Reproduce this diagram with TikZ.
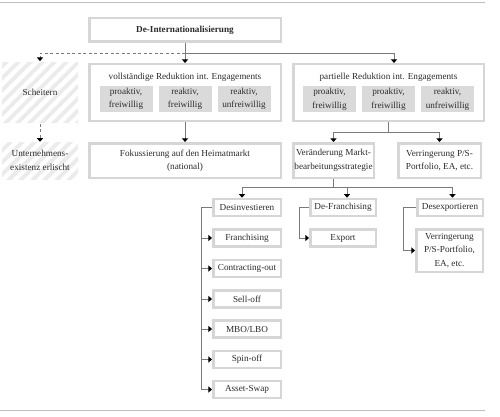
\documentclass[tikz,border=0pt]{standalone}
\usepackage{fontspec}
\setmainfont{Liberation Serif}
\usepackage{tikz}
\usetikzlibrary{arrows.meta, positioning, calc, patterns.meta}
\usepackage{xcolor}
\definecolor{boxline}{HTML}{D6D6D6}
\definecolor{subfill}{HTML}{DADADA}
\definecolor{wiregray}{HTML}{7A7A7A}
\definecolor{rulegray}{HTML}{BDBDBD}
\definecolor{hatchgray}{HTML}{EBEBEB}
\definecolor{textdark}{HTML}{2B2B2B}

\begin{document}
\begin{tikzpicture}[
  x=1pt, y=-1pt,
  every node/.style={font=\fontsize{9.2}{13.5}\selectfont, text=textdark},
  box/.style={
    rectangle, draw=boxline, line width=2.5pt, fill=white,
    align=center, inner sep=1pt
  },
  subbox/.style={
    rectangle, fill=subfill, align=center, inner sep=1pt,
    minimum width=53pt, minimum height=26pt
  },
  hatchbox/.style={
    rectangle, align=center, inner sep=1pt,
    pattern={Lines[angle=45, distance=8.5pt, line width=3.8pt]},
    pattern color=hatchgray
  },
  wire/.style={draw=wiregray, line width=0.8pt},
  arrowtip/.style={-{Triangle[length=3.6pt, width=6pt, color=black]}}
]
  \useasboundingbox (0,0) rectangle (500,417);

  % Rules top and bottom
  \draw[rulegray, line width=0.8pt] (0,2) -- (485,2);
  \draw[rulegray, line width=0.8pt] (0,410) -- (485,410);

  % Top level
  \node[box, font=\fontsize{9.2}{13.5}\selectfont\bfseries, minimum width=191.5pt, minimum height=23.5pt]
    (title) at (185,30) {De-Internationalisierung};

  % Row 1
  \node[hatchbox, minimum width=76pt, minimum height=59pt] (fail) at (40,92.5) {Scheitern};

  \node[box, minimum width=191.5pt, minimum height=56.5pt] (full) at (185,92.5) {};
  \node (fulltext) at (185,77) {vollständige Reduktion int. Engagements};
  \node[subbox] (fullA) at (126,99) {proaktiv,\\freiwillig};
  \node[subbox] (fullB) at (185,99) {reaktiv,\\freiwillig};
  \node[subbox] (fullC) at (244,99) {reaktiv,\\unfreiwillig};

  \node[box, minimum width=190.5pt, minimum height=56.5pt] (partial) at (388.5,92.5) {};
  \node (partialtext) at (388.5,77) {partielle Reduktion int. Engagements};
  \node[subbox] (partA) at (329.5,99.5) {proaktiv,\\freiwillig};
  \node[subbox] (partB) at (388.5,99.5) {proaktiv,\\freiwillig};
  \node[subbox] (partC) at (447.5,99.5) {reaktiv,\\unfreiwillig};

  % Row 2
  \node[hatchbox, minimum width=76pt, minimum height=37pt] (extinct) at (40,160.5)
    {Unternehmens-\\existenz erlischt};
  \node[box, minimum width=191.5pt, minimum height=34.5pt] (focus) at (185,160.5)
    {Fokussierung auf den Heimatmarkt\\(national)};
  \node[box, minimum width=80.5pt, minimum height=34.5pt] (change) at (333.5,160.5)
    {Veränderung Markt-\\bearbeitungsstrategie};
  \node[box, minimum width=82.5pt, minimum height=34.5pt] (reduce) at (439.5,160.5)
    {Verringerung P/S-\\Portfolio, EA, etc.};

  % Row 3: Desinvestieren
  \node[box, minimum width=67.5pt, minimum height=17pt] (divest) at (247,207.5) {Desinvestieren};
  \node[box, minimum width=67.5pt, minimum height=17pt] (franch) at (247,238) {Franchising};
  \node[box, minimum width=67.5pt, minimum height=17pt] (contract) at (247,268.5) {Contracting-out};
  \node[box, minimum width=67.5pt, minimum height=17pt] (selloff) at (247,299) {Sell-off};
  \node[box, minimum width=67.5pt, minimum height=17pt] (mbo) at (247,329) {MBO/LBO};
  \node[box, minimum width=67.5pt, minimum height=17pt] (spinoff) at (247,359.5) {Spin-off};
  \node[box, minimum width=67.5pt, minimum height=17pt] (swap) at (247,389.5) {Asset-Swap};

  % Row 3: De-Franchising
  \node[box, minimum width=65.5pt, minimum height=17pt] (defranch) at (343,207.5) {De-Franchising};
  \node[box, minimum width=65.5pt, minimum height=17pt] (export) at (343,238) {Export};

  % Row 3: Desexportieren
  \node[box, minimum width=65.5pt, minimum height=17pt] (deexport) at (450,207.5) {Desexportieren};
  \node[box, minimum width=66.5pt, minimum height=42.5pt] (reduce2) at (449.5,250.5)
    {Verringerung\\P/S-Portfolio,\\EA, etc.};

  % Connectors from the top
  \coordinate (split) at (185,53);
  \draw[wire, arrowtip] (title.south) -- (full.north);
  \draw[wire, arrowtip] (split) -| ([xshift=5.5pt]partial.north);
  \draw[wire, dashed, dash pattern=on 3pt off 2.5pt, arrowtip] (split) -| (fail.north);

  % Row 1 to row 2
  \draw[wire, dashed, dash pattern=on 3pt off 2.5pt, arrowtip] (fail.south) -- (extinct.north);
  \draw[wire, arrowtip] (full.south) -- (focus.north);
  \coordinate (partsplit) at (388.5,132);
  \draw[wire] (partial.south) -- (partsplit);
  \draw[wire, arrowtip] (partsplit) -| (change.north);
  \draw[wire, arrowtip] (partsplit) -| (reduce.north);

  % Row 2 to row 3
  \coordinate (changesplit) at (333.5,187);
  \draw[wire] (change.south) -- (changesplit);
  \draw[wire, arrowtip] (changesplit) -| ([xshift=-5pt]divest.north);
  \draw[wire, arrowtip] (changesplit) -| ([xshift=4pt]defranch.north);
  \draw[wire, arrowtip] (changesplit) -| ([xshift=2.5pt]deexport.north);

  % Desinvestieren list
  \coordinate (busA) at (201,207.5);
  \draw[wire] (divest.west) -- (busA) -- (busA |- swap.west);
  \draw[wire, arrowtip] (busA |- franch.west) -- (franch.west);
  \draw[wire, arrowtip] (busA |- contract.west) -- (contract.west);
  \draw[wire, arrowtip] (busA |- selloff.west) -- (selloff.west);
  \draw[wire, arrowtip] (busA |- mbo.west) -- (mbo.west);
  \draw[wire, arrowtip] (busA |- spinoff.west) -- (spinoff.west);
  \draw[wire, arrowtip] (busA |- swap.west) -- (swap.west);

  % De-Franchising
  \coordinate (busB) at (299,207.5);
  \draw[wire, arrowtip] (defranch.west) -- (busB) |- (export.west);

  % Desexportieren
  \coordinate (busC) at (403,207.5);
  \draw[wire, arrowtip] (deexport.west) -- (busC) |- (reduce2.west);
\end{tikzpicture}
\end{document}
